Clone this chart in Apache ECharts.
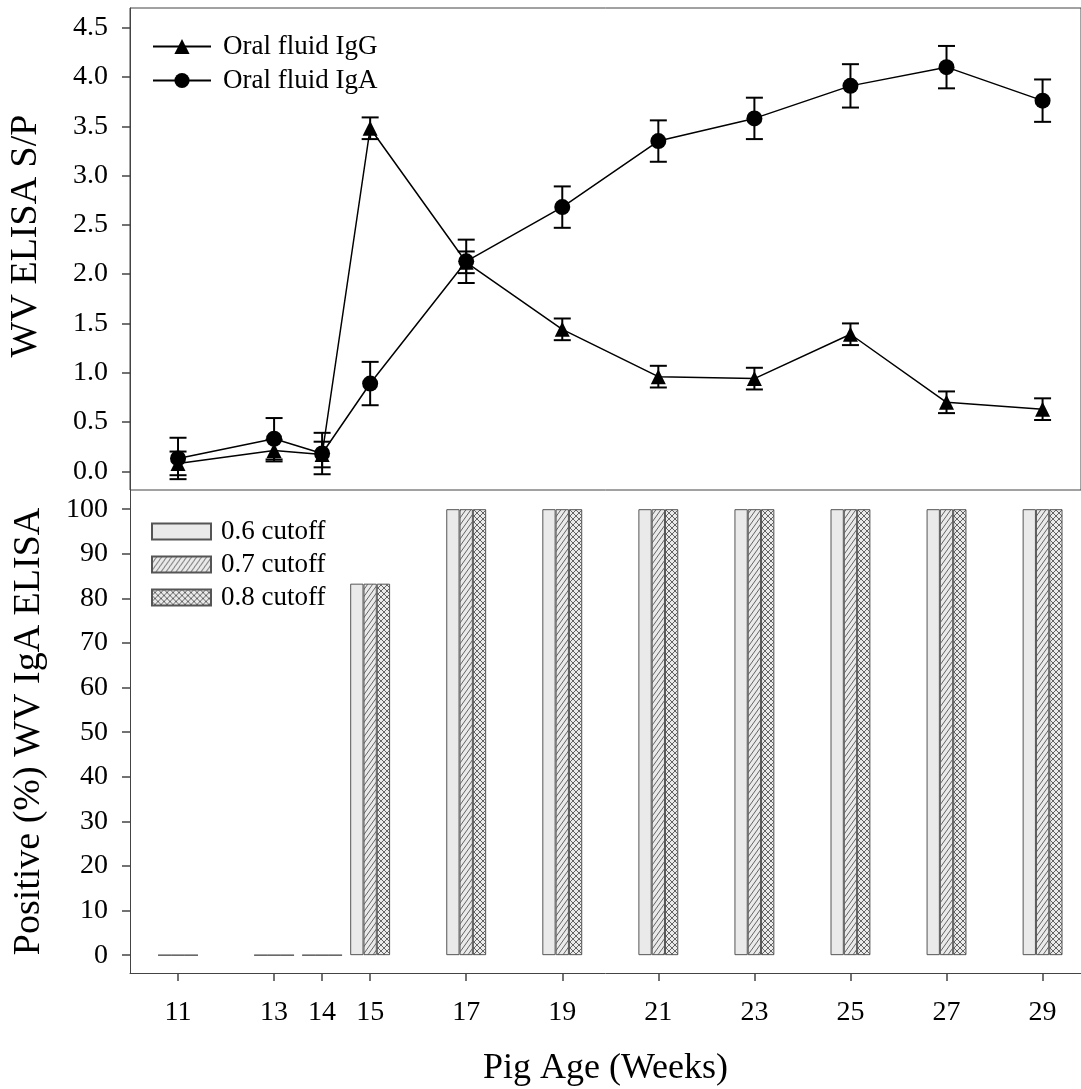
<!DOCTYPE html>
<html>
<head>
<meta charset="utf-8">
<script src="https://cdn.jsdelivr.net/npm/echarts@6/dist/echarts.min.js"></script>
<style>
html,body{margin:0;padding:0;background:#fff;}
#chart{width:1081px;height:1089px;}
</style>
</head>
<body>
<div id="chart"></div>
<script>
// ---- data ----
const weeks = [11, 13, 14, 15, 17, 19, 21, 23, 25, 27, 29];
const iggMean = [0.08, 0.21, 0.17, 3.48, 2.12, 1.44, 0.96, 0.94, 1.39, 0.70, 0.63];
const iggErr  = [0.12, 0.11, 0.13, 0.11, 0.11, 0.11, 0.11, 0.11, 0.11, 0.11, 0.11];
const igaMean = [0.13, 0.33, 0.18, 0.89, 2.13, 2.68, 3.35, 3.58, 3.91, 4.10, 3.76];
const igaErr  = [0.21, 0.21, 0.21, 0.22, 0.22, 0.21, 0.21, 0.21, 0.22, 0.215, 0.215];
const cutoff06 = [0, 0, 0, 83.3, 100, 100, 100, 100, 100, 100, 100];
const cutoff07 = [0, 0, 0, 83.3, 100, 100, 100, 100, 100, 100, 100];
const cutoff08 = [0, 0, 0, 83.3, 100, 100, 100, 100, 100, 100, 100];
const xTickLabels = [11, 13, 14, 15, 17, 19, 21, 23, 25, 27, 29];
const spTicks = [0, 0.5, 1.0, 1.5, 2.0, 2.5, 3.0, 3.5, 4.0, 4.5];
const pctTicks = [0, 10, 20, 30, 40, 50, 60, 70, 80, 90, 100];

const FONT = '"Liberation Serif","Times New Roman",serif';
const AX = '#444';

function makePattern(kind) {
  const c = document.createElement('canvas');
  const w = kind === 'hatch' ? 5 : 6, h = kind === 'hatch' ? 7 : 6;
  c.width = w; c.height = h;
  const g = c.getContext('2d');
  g.fillStyle = '#eaeaea';
  g.fillRect(0, 0, w, h);
  g.strokeStyle = '#555';
  g.lineWidth = 0.9;
  const fwd = () => {
    g.beginPath();
    g.moveTo(-w / 5, h + h / 5); g.lineTo(w + w / 5, -h / 5);
    g.moveTo(-w / 5, h / 5); g.lineTo(w / 5, -h / 5);
    g.moveTo(w - w / 5, h + h / 5); g.lineTo(w + w / 5, h - h / 5);
    g.stroke();
  };
  const back = () => {
    g.beginPath();
    g.moveTo(-1, -1); g.lineTo(w + 1, h + 1);
    g.moveTo(w - 1, -1); g.lineTo(w + 1, 1);
    g.moveTo(-1, h - 1); g.lineTo(1, h + 1);
    g.stroke();
  };
  if (kind === 'hatch') fwd();
  if (kind === 'cross') { fwd(); back(); }
  return { image: c, repeat: 'repeat' };
}

const chart = echarts.init(document.getElementById('chart'));

function errRender(params, api) {
  const x = api.value(0), m = api.value(1), e = api.value(2);
  const t = api.coord([x, m + e]);
  const b = api.coord([x, m - e]);
  const hw = 8.5;
  const st = { stroke: '#000', lineWidth: 2 };
  return {
    type: 'group',
    children: [
      { type: 'line', shape: { x1: t[0], y1: t[1], x2: b[0], y2: b[1] }, style: st },
      { type: 'line', shape: { x1: t[0] - hw, y1: t[1], x2: t[0] + hw, y2: t[1] }, style: st },
      { type: 'line', shape: { x1: b[0] - hw, y1: b[1], x2: b[0] + hw, y2: b[1] }, style: st }
    ]
  };
}

const xCommon = { type: 'value', min: 10, max: 29.8 };

const option = {
  animation: false,
  backgroundColor: '#fff',
  textStyle: { fontFamily: FONT },
  grid: [
    { left: 130, right: 0, top: 8, height: 482, show: true, borderColor: AX, borderWidth: 1, backgroundColor: 'transparent', outerBoundsMode: 'none', containLabel: false },
    { left: 130, right: 0, top: 490, bottom: 116, outerBoundsMode: 'none', containLabel: false }
  ],
  legend: [
    {
      data: ['Oral fluid IgG', 'Oral fluid IgA'],
      orient: 'vertical', left: 147, top: 28,
      itemWidth: 58, itemHeight: 19, itemGap: 7,
      textStyle: { fontFamily: FONT, fontSize: 27, color: '#000', padding: [0, 0, 0, 7] }
    },
    {
      data: ['0.6 cutoff', '0.7 cutoff', '0.8 cutoff'],
      orient: 'vertical', left: 146, top: 513,
      icon: 'rect',
      itemWidth: 59, itemHeight: 16, itemGap: 6,
      textStyle: { fontFamily: FONT, fontSize: 27, color: '#000', padding: [0, 0, 0, 5] }
    }
  ],
  xAxis: [
    Object.assign({}, xCommon, {
      gridIndex: 0,
      axisLine: { show: false }, axisTick: { show: false }, axisLabel: { show: false }, splitLine: { show: false }
    }),
    Object.assign({}, xCommon, {
      gridIndex: 1,
      name: 'Pig Age (Weeks)', nameLocation: 'middle', nameGap: 78,
      nameTextStyle: { fontFamily: FONT, fontSize: 36, color: '#000' },
      axisLine: { show: true, onZero: false, lineStyle: { color: AX, width: 1 } },
      axisTick: { show: true, inside: false, length: 8, customValues: xTickLabels, lineStyle: { color: AX, width: 1.5 } },
      axisLabel: { show: true, margin: 26, customValues: xTickLabels, fontFamily: FONT, fontSize: 28, color: '#000' },
      splitLine: { show: false }
    })
  ],
  yAxis: [
    {
      type: 'value', gridIndex: 0, min: -0.19, max: 4.7,
      name: 'WV ELISA S/P', nameLocation: 'middle', nameGap: 85,
      nameTextStyle: { fontFamily: FONT, fontSize: 38, color: '#000', padding: [0, 0, 0, 26] },
      axisLine: { show: true, lineStyle: { color: AX, width: 1 } },
      axisTick: { show: true, inside: false, length: 8, customValues: spTicks, lineStyle: { color: AX, width: 1.5 } },
      axisLabel: { show: true, margin: 22, customValues: spTicks, formatter: v => v.toFixed(1), fontFamily: FONT, fontSize: 28, color: '#000' },
      splitLine: { show: false }
    },
    {
      type: 'value', gridIndex: 1, min: -4, max: 104.3,
      name: 'Positive (%) WV IgA ELISA', nameLocation: 'middle', nameGap: 82,
      nameTextStyle: { fontFamily: FONT, fontSize: 38, color: '#000' },
      axisLine: { show: true, onZero: false, lineStyle: { color: AX, width: 1 } },
      axisTick: { show: true, inside: false, length: 8, customValues: pctTicks, lineStyle: { color: AX, width: 1.5 } },
      axisLabel: { show: true, margin: 22, customValues: pctTicks, fontFamily: FONT, fontSize: 28, color: '#000' },
      splitLine: { show: false }
    }
  ],
  series: [
    {
      name: 'IgG err', type: 'custom', xAxisIndex: 0, yAxisIndex: 0, z: 3,
      renderItem: errRender, silent: true,
      data: weeks.map((w, i) => [w, iggMean[i], iggErr[i]])
    },
    {
      name: 'IgA err', type: 'custom', xAxisIndex: 0, yAxisIndex: 0, z: 3,
      renderItem: errRender, silent: true,
      data: weeks.map((w, i) => [w, igaMean[i], igaErr[i]])
    },
    {
      name: 'Oral fluid IgG', type: 'line', xAxisIndex: 0, yAxisIndex: 0, z: 4,
      symbol: 'triangle', symbolSize: 15,
      itemStyle: { color: '#000' }, lineStyle: { color: '#000', width: 1.5 },
      data: weeks.map((w, i) => [w, iggMean[i]])
    },
    {
      name: 'Oral fluid IgA', type: 'line', xAxisIndex: 0, yAxisIndex: 0, z: 4,
      symbol: 'circle', symbolSize: 16,
      itemStyle: { color: '#000' }, lineStyle: { color: '#000', width: 1.5 },
      data: weeks.map((w, i) => [w, igaMean[i]])
    },
    {
      name: '0.6 cutoff', type: 'bar', xAxisIndex: 1, yAxisIndex: 1,
      barWidth: 13.3, barGap: '0%',
      itemStyle: { color: '#eaeaea', borderColor: '#555', borderWidth: 1 },
      data: weeks.map((w, i) => [w, cutoff06[i]])
    },
    {
      name: '0.7 cutoff', type: 'bar', xAxisIndex: 1, yAxisIndex: 1,
      barWidth: 13.3, barGap: '0%',
      itemStyle: { color: makePattern('hatch'), borderColor: '#555', borderWidth: 1 },
      data: weeks.map((w, i) => [w, cutoff07[i]])
    },
    {
      name: '0.8 cutoff', type: 'bar', xAxisIndex: 1, yAxisIndex: 1,
      barWidth: 13.3, barGap: '0%',
      itemStyle: { color: makePattern('cross'), borderColor: '#555', borderWidth: 1 },
      data: weeks.map((w, i) => [w, cutoff08[i]])
    }
  ]
};
chart.setOption(option);
</script>
</body>
</html>
